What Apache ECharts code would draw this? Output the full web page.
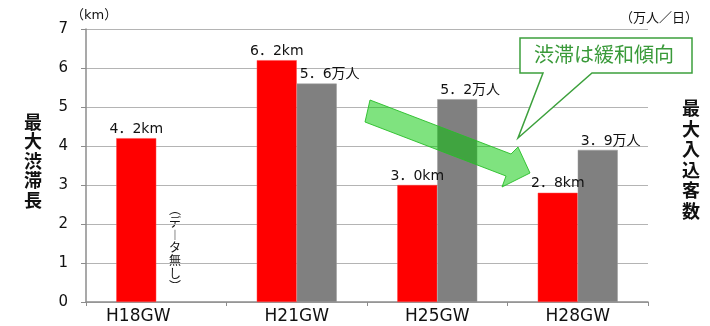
<!DOCTYPE html>
<html>
<head>
<meta charset="utf-8">
<script src="https://cdn.jsdelivr.net/npm/echarts@6/dist/echarts.min.js"></script>
<style>
  html, body { margin: 0; padding: 0; background: #fff; }
  #chart { width: 710px; height: 326px; }
</style>
</head>
<body>
<div id="chart"></div>
<script>
// GW periods
const categories = ['H18GW', 'H21GW', 'H25GW', 'H28GW'];
// Longest traffic jam (km)
const jamLength = [4.2, 6.2, 3.0, 2.8];
// Peak visitors (10,000 people / day); no survey in H18
const visitors = [null, 5.6, 5.2, 3.9];
const yTicks = [0, 1, 2, 3, 4, 5, 6, 7];

const FONT = '"Noto Sans CJK JP", "Liberation Sans", sans-serif';
const NUM_FONT = '"DejaVu Sans", "Noto Sans CJK JP", sans-serif';
const fmt = v => v.toFixed(1).replace('.', '．');

const chart = echarts.init(document.getElementById('chart'));

chart.setOption({
  animation: false,
  grid: { left: 86, right: 62, top: 29, bottom: 24 },
  xAxis: {
    type: 'category',
    data: categories.map((c, i) => i === 0
      ? { value: c, textStyle: { padding: [0, 36, 0, 0] } }
      : c),
    axisLine: { lineStyle: { color: '#8c8c8c', width: 1.5 } },
    axisTick: { show: true, length: 4, lineStyle: { color: '#8c8c8c' } },
    axisLabel: { color: '#111', fontSize: 17, fontFamily: '"DejaVu Sans", sans-serif', margin: 6 }
  },
  yAxis: [{
    type: 'value',
    min: yTicks[0],
    max: yTicks[yTicks.length - 1],
    interval: 1,
    axisLine: { show: true, lineStyle: { color: '#8c8c8c', width: 1.5 } },
    axisTick: { show: true, length: 5, lineStyle: { color: '#8c8c8c' } },
    axisLabel: { color: '#111', fontSize: 15, fontFamily: '"DejaVu Sans", sans-serif', margin: 18 },
    splitLine: { lineStyle: { color: '#b4b4b4', width: 1 } }
  }],
  series: [{
    name: '最大渋滞長',
    type: 'bar',
    data: jamLength,
    barWidth: 40,
    barGap: '0%',
    itemStyle: { color: '#ff0000', borderColor: '#ff4a4a', borderWidth: 0.5 },
    label: {
      show: true,
      position: 'top',
      distance: 2,
      color: '#111',
      fontSize: 14,
      fontFamily: NUM_FONT,
      formatter: p => fmt(p.value) + 'km'
    }
  }, {
    name: '最大入込客数',
    type: 'bar',
    data: visitors,
    barWidth: 40,
    itemStyle: { color: '#808080', borderColor: '#9a9a9a', borderWidth: 0.5 },
    label: {
      show: true,
      position: [3, -2],
      align: 'left',
      verticalAlign: 'bottom',
      color: '#111',
      fontSize: 14,
      fontFamily: NUM_FONT,
      formatter: p => fmt(p.value) + '万人'
    }
  }],
  graphic: [
    // unit labels
    { type: 'text', left: 71, top: 9, style: { text: '（km）', fill: '#111', font: '13px ' + NUM_FONT } },
    { type: 'text', left: 620, top: 11, style: { text: '（万人／日）', fill: '#111', font: '13px ' + FONT } },
    // axis titles (vertical)
    { type: 'text', left: 24, top: 112, style: { text: '最大渋滞長'.split('').join('\n'), fill: '#111', font: 'bold 18px ' + FONT, lineHeight: 19.5 } },
    { type: 'text', left: 682, top: 98, style: { text: '最大入込客数'.split('').join('\n'), fill: '#111', font: 'bold 18px ' + FONT, lineHeight: 20.5 } },
    // no-data note for H18
    { type: 'text', left: 169, top: 203, style: { text: '︵\nデ\n︱\nタ\n無\nし\n︶', fill: '#111', font: '12px ' + FONT, lineHeight: 12.8 } },
    // downward trend arrow
    {
      type: 'polygon',
      shape: { points: [[370, 100], [511, 154], [518, 147], [530, 173], [502, 187], [506, 176], [365, 122]] },
      style: { fill: 'rgba(0, 200, 0, 0.5)', stroke: 'rgba(40, 190, 40, 0.9)', lineWidth: 1 },
      z: 100
    },
    // callout
    {
      type: 'polygon',
      shape: { points: [[520, 38], [692, 38], [692, 73], [592, 73], [518, 138], [543, 73], [520, 73]] },
      style: { fill: '#fff', stroke: '#3ca03c', lineWidth: 1.5 },
      z: 100
    },
    { type: 'text', left: 534, top: 44, z: 101, style: { text: '渋滞は緩和傾向', fill: '#3a9a3a', font: '20px ' + FONT } }
  ]
});
</script>
</body>
</html>
